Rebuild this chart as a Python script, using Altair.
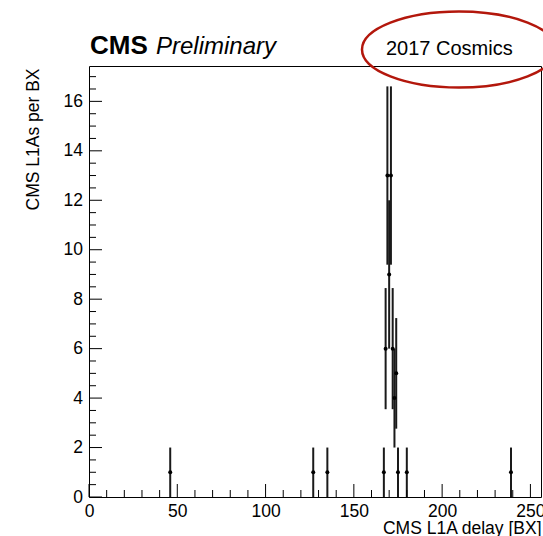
import altair as alt
import pandas as pd

FONT = "Liberation Sans"

# histogram content (bin centre, entries per bin)
bin_x = [46, 127, 135, 167, 168, 169, 170, 171, 172, 173, 174, 175, 180, 239]
counts = [1, 1, 1, 1, 6, 13, 9, 13, 6, 4, 5, 1, 1, 1]

# axis tick positions
x_major = [0, 50, 100, 150, 200, 250]
x_minor = [10, 20, 30, 40, 60, 70, 80, 90, 110, 120, 130, 140, 160, 170, 180,
           190, 210, 220, 230, 240]
y_major = [0, 2, 4, 6, 8, 10, 12, 14, 16]
y_minor = [0.5, 1, 1.5, 2.5, 3, 3.5, 4.5, 5, 5.5, 6.5, 7, 7.5, 8.5, 9, 9.5,
           10.5, 11, 11.5, 12.5, 13, 13.5, 14.5, 15, 15.5, 16.5, 17]

x_domain = [0, 256]
y_domain = [0, 17.43]

title_cms = "CMS"
title_prelim = "Preliminary"
title_tag = "2017 Cosmics"
x_title = "CMS L1A delay [BX]"
y_title = "CMS L1As per BX"

W, H = 452, 431
MAJ, MIN = 13, 7

xscale = alt.Scale(domain=x_domain, nice=False, zero=False)
yscale = alt.Scale(domain=y_domain, nice=False, zero=False)

df = pd.DataFrame({"x": bin_x, "n": counts})

xaxis = alt.Axis(values=x_major, ticks=False, domain=False, grid=False,
                 labelFont=FONT, labelFontSize=17.5, labelColor="black",
                 labelPadding=5, labelFlush=False, labelOverlap=False,
                 title=x_title, titleFont=FONT, titleFontSize=17.5,
                 titleFontWeight="normal", titleColor="black",
                 titleAnchor="end", titleAlign="right",
                 titleBaseline="alphabetic", titleX=W, titleY=36.3)
yaxis = alt.Axis(values=y_major, ticks=False, domain=False, grid=False,
                 labelFont=FONT, labelFontSize=17.5, labelColor="black",
                 labelPadding=6.5, labelFlush=False, labelOverlap=False,
                 title=y_title, titleFont=FONT, titleFontSize=17.5,
                 titleFontWeight="normal", titleColor="black",
                 titleAngle=270, titleAlign="right",
                 titleBaseline="alphabetic", titleX=-51, titleY=2)

base = alt.Chart(df).transform_calculate(
    lo="datum.n - sqrt(datum.n)", hi="datum.n + sqrt(datum.n)"
)

errbars = base.mark_rule(color="#1a1a1a", strokeWidth=2).encode(
    x=alt.X("x:Q", scale=xscale, axis=xaxis),
    y=alt.Y("lo:Q", scale=yscale, axis=yaxis),
    y2="hi:Q",
)
points = base.mark_circle(size=16, color="black", opacity=1).encode(
    x=alt.X("x:Q", scale=xscale, axis=xaxis),
    y=alt.Y("n:Q", scale=yscale, axis=yaxis),
)


def xticks(vals, length):
    return alt.Chart(pd.DataFrame({"v": vals})).mark_rule(
        color="black", strokeWidth=1).encode(
        x=alt.X("v:Q", scale=xscale, axis=xaxis),
        y=alt.value(H), y2=alt.value(H - length))


def yticks(vals, length):
    return alt.Chart(pd.DataFrame({"v": vals})).mark_rule(
        color="black", strokeWidth=1).encode(
        y=alt.Y("v:Q", scale=yscale, axis=yaxis),
        x=alt.value(0), x2=alt.value(length))


def label(txt, x, y, size, weight="normal", style="normal"):
    return alt.Chart(pd.DataFrame({"t": [txt]})).mark_text(
        align="left", baseline="alphabetic", font=FONT, fontSize=size,
        fontWeight=weight, fontStyle=style, color="black").encode(
        x=alt.value(x), y=alt.value(y), text="t:N")


ELLIPSE = ("M-1,0C-1,-0.2165,-0.5523,-0.392,0,-0.392"
           "C0.5523,-0.392,1,-0.2165,1,0"
           "C1,0.2165,0.5523,0.392,0,0.392"
           "C-0.5523,0.392,-1,0.2165,-1,0Z")
ellipse = alt.Chart(pd.DataFrame({"k": [0]})).mark_point(
    shape=ELLIPSE, size=37636, filled=False, color="#b3170c",
    strokeWidth=2.5, opacity=1).encode(x=alt.value(370), y=alt.value(-16.5))

chart = alt.layer(
    errbars, points,
    xticks(x_major, MAJ), xticks(x_minor, MIN),
    yticks(y_major, MAJ), yticks(y_minor, MIN),
    label(title_cms, 1, -11.7, 26, weight="bold"),
    label(title_prelim, 67, -11.7, 24, style="italic"),
    label(title_tag, 297, -11, 20),
    ellipse,
).properties(
    width=W, height=H,
    padding={"left": 89, "top": 66, "right": 2, "bottom": 39},
    autosize=alt.AutoSizeParams(type="none"),
).configure_view(stroke="black", strokeWidth=1)

chart.save("out.html", embed_options={"renderer": "svg", "actions": False})
